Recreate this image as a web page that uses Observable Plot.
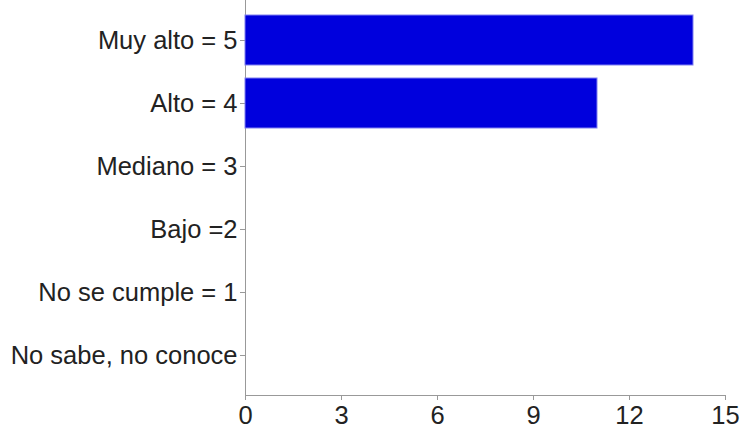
<!DOCTYPE html>
<html>
<head>
<meta charset="utf-8">
<script src="https://cdn.jsdelivr.net/npm/d3@7"></script>
<script src="https://cdn.jsdelivr.net/npm/@observablehq/plot@0.6"></script>
<style>
  body { margin: 0; background: #fff; }
  #chart svg text { fill: #222; }
</style>
</head>
<body>
<div id="chart"></div>
<script>
const categories = ["Muy alto = 5", "Alto = 4", "Mediano = 3", "Bajo =2", "No se cumple = 1", "No sabe, no conoce"];
const counts = [14, 11, 0, 0, 0, 0];
const xTicks = [0, 3, 6, 9, 12, 15];

const data = categories.map((c, i) => ({cat: c, count: counts[i]}));

const chart = Plot.plot({
  width: 741,
  height: 429,
  marginLeft: 245,
  marginRight: 16,
  marginTop: 0,
  marginBottom: 34,
  style: {fontFamily: "'Liberation Sans', Arial, sans-serif", fontSize: "25.5px", color: "#999", background: "#fff"},
  x: {domain: [0, 15], ticks: xTicks, line: true, tickSize: 5, tickPadding: 5, label: null},
  y: {domain: categories, padding: 0.21, line: true, tickSize: 5, tickPadding: 3, label: null},
  marks: [
    Plot.barX(data, {x: "count", y: "cat", fill: "#0000dd", stroke: "#8080f0", strokeWidth: 1, filter: d => d.count > 0})
  ]
});
document.getElementById("chart").appendChild(chart);
</script>
</body>
</html>
